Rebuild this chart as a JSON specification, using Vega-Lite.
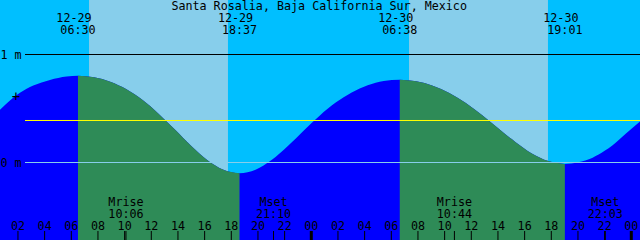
{
  "$schema": "https://vega.github.io/schema/vega-lite/v6.json",
  "width": 640,
  "height": 240,
  "autosize": {"type": "none"},
  "padding": 0,
  "background": "#00BFFF",
  "config": {
    "view": {"stroke": null},
    "text": {"font": "DejaVu Sans Mono", "fontSize": 11.7, "fill": "black"}
  },
  "datasets": {
    "tide": [
      {"h": 0.6, "level": 0.482}, {"h": 1.4, "level": 0.575}, {"h": 2.15, "level": 0.645},
      {"h": 3.15, "level": 0.712}, {"h": 4.4, "level": 0.765}, {"h": 5.65, "level": 0.797},
      {"h": 6.5, "level": 0.803}, {"h": 7.71, "level": 0.789}, {"h": 8.92, "level": 0.748},
      {"h": 10.14, "level": 0.678}, {"h": 11.35, "level": 0.578}, {"h": 12.56, "level": 0.45},
      {"h": 13.77, "level": 0.305}, {"h": 14.98, "level": 0.155}, {"h": 16.19, "level": 0.024},
      {"h": 17.41, "level": -0.067}, {"h": 18.617, "level": -0.099}, {"h": 19.82, "level": -0.067},
      {"h": 21.02, "level": 0.022}, {"h": 22.22, "level": 0.15}, {"h": 23.42, "level": 0.295},
      {"h": 24.625, "level": 0.434}, {"h": 25.83, "level": 0.555}, {"h": 27.03, "level": 0.649},
      {"h": 28.23, "level": 0.715}, {"h": 29.43, "level": 0.754}, {"h": 30.633, "level": 0.766},
      {"h": 31.87, "level": 0.752}, {"h": 33.11, "level": 0.711}, {"h": 34.35, "level": 0.644},
      {"h": 35.59, "level": 0.551}, {"h": 36.825, "level": 0.437}, {"h": 38.06, "level": 0.313},
      {"h": 39.3, "level": 0.19}, {"h": 40.54, "level": 0.084}, {"h": 41.78, "level": 0.013},
      {"h": 43.017, "level": -0.013}, {"h": 44.0, "level": 0.003}, {"h": 45.1, "level": 0.045},
      {"h": 46.0, "level": 0.108}, {"h": 46.6, "level": 0.16}, {"h": 47.6, "level": 0.268},
      {"h": 48.7, "level": 0.385}
    ],
    "extremes": [
      {"h": 6.5, "date": "12-29", "time": "06:30"},
      {"h": 18.617, "date": "12-29", "time": "18:37"},
      {"h": 30.633, "date": "12-30", "time": "06:38"},
      {"h": 43.017, "date": "12-30", "time": "19:01"}
    ],
    "moon": [
      {"h": 10.1, "event": "Mrise", "time": "10:06"},
      {"h": 21.167, "event": "Mset", "time": "21:10"},
      {"h": 34.733, "event": "Mrise", "time": "10:44"},
      {"h": 46.05, "event": "Mset", "time": "22:03"}
    ],
    "sun": [
      {"rise": 7.33, "set": 17.75},
      {"rise": 31.33, "set": 41.75}
    ],
    "hours": [
      {"h": 2, "label": "02", "kind": "hour"}, {"h": 4, "label": "04", "kind": "hour"},
      {"h": 6, "label": "06", "kind": "hour"}, {"h": 8, "label": "08", "kind": "hour"},
      {"h": 10, "label": "10", "kind": "hour"}, {"h": 12, "label": "12", "kind": "hour"},
      {"h": 14, "label": "14", "kind": "hour"}, {"h": 16, "label": "16", "kind": "hour"},
      {"h": 18, "label": "18", "kind": "hour"}, {"h": 20, "label": "20", "kind": "hour"},
      {"h": 22, "label": "22", "kind": "hour"}, {"h": 24, "label": "00", "kind": "midnight"},
      {"h": 26, "label": "02", "kind": "hour"}, {"h": 28, "label": "04", "kind": "hour"},
      {"h": 30, "label": "06", "kind": "hour"}, {"h": 32, "label": "08", "kind": "hour"},
      {"h": 34, "label": "10", "kind": "hour"}, {"h": 36, "label": "12", "kind": "hour"},
      {"h": 38, "label": "14", "kind": "hour"}, {"h": 40, "label": "16", "kind": "hour"},
      {"h": 42, "label": "18", "kind": "hour"}, {"h": 44, "label": "20", "kind": "hour"},
      {"h": 46, "label": "22", "kind": "hour"}, {"h": 48, "label": "00", "kind": "midnight"}
    ],
    "levels": [
      {"level": 1, "label": "1 m"},
      {"level": 0, "label": "0 m"}
    ],
    "mean": [{"level": 0.389}],
    "title": [{"title": "Santa Rosalia, Baja California Sur, Mexico"}]
  },
  "layer": [
    {
      "data": {"name": "sun"},
      "mark": {"type": "rect", "color": "#87CEEB"},
      "encoding": {
        "x": {"field": "rise", "type": "quantitative", "scale": {"domain": [0.6525, 48.6525], "nice": false, "zero": false}, "axis": null},
        "x2": {"field": "set"}
      }
    },
    {
      "data": {"name": "tide"},
      "mark": {"type": "area", "interpolate": "monotone", "color": "#0000FF", "opacity": 1},
      "encoding": {
        "x": {"field": "h", "type": "quantitative", "scale": {"domain": [0.6525, 48.6525], "nice": false, "zero": false}, "axis": null},
        "y": {"field": "level", "type": "quantitative", "stack": null, "scale": {"domain": [-0.71759, 1.50463], "nice": false, "zero": false}, "axis": null},
        "y2": {"datum": -0.71759}
      }
    },
    {
      "data": {"name": "tide"},
      "transform": [{"filter": "datum.h >= 6.5 && datum.h <= 18.617"}],
      "mark": {"type": "area", "interpolate": "monotone", "color": "#2E8B57", "opacity": 1},
      "encoding": {
        "x": {"field": "h", "type": "quantitative", "scale": {"domain": [0.6525, 48.6525], "nice": false, "zero": false}, "axis": null},
        "y": {"field": "level", "type": "quantitative", "stack": null, "scale": {"domain": [-0.71759, 1.50463], "nice": false, "zero": false}, "axis": null},
        "y2": {"datum": -0.71759}
      }
    },
    {
      "data": {"name": "tide"},
      "transform": [{"filter": "datum.h >= 30.633 && datum.h <= 43.017"}],
      "mark": {"type": "area", "interpolate": "monotone", "color": "#2E8B57", "opacity": 1},
      "encoding": {
        "x": {"field": "h", "type": "quantitative", "scale": {"domain": [0.6525, 48.6525], "nice": false, "zero": false}, "axis": null},
        "y": {"field": "level", "type": "quantitative", "stack": null, "scale": {"domain": [-0.71759, 1.50463], "nice": false, "zero": false}, "axis": null},
        "y2": {"datum": -0.71759}
      }
    },
    {
      "data": {"name": "levels"},
      "transform": [{"filter": "datum.level == 1"}],
      "mark": {"type": "rule", "color": "black", "strokeWidth": 1},
      "encoding": {
        "y": {"field": "level", "type": "quantitative", "scale": {"domain": [-0.71759, 1.50463], "nice": false, "zero": false}, "axis": null},
        "x": {"datum": 2.5275, "type": "quantitative", "scale": {"domain": [0.6525, 48.6525], "nice": false, "zero": false}, "axis": null},
        "x2": {"datum": 48.7}
      }
    },
    {
      "data": {"name": "levels"},
      "transform": [{"filter": "datum.level == 0"}],
      "mark": {"type": "rule", "color": "#87CEEB", "strokeWidth": 1},
      "encoding": {
        "y": {"field": "level", "type": "quantitative", "scale": {"domain": [-0.71759, 1.50463], "nice": false, "zero": false}, "axis": null},
        "x": {"datum": 2.5275, "type": "quantitative", "scale": {"domain": [0.6525, 48.6525], "nice": false, "zero": false}, "axis": null},
        "x2": {"datum": 48.7}
      }
    },
    {
      "data": {"name": "mean"},
      "mark": {"type": "rule", "color": "#FFFF00", "strokeWidth": 1},
      "encoding": {
        "y": {"field": "level", "type": "quantitative", "scale": {"domain": [-0.71759, 1.50463], "nice": false, "zero": false}, "axis": null},
        "x": {"datum": 2.5275, "type": "quantitative", "scale": {"domain": [0.6525, 48.6525], "nice": false, "zero": false}, "axis": null},
        "x2": {"datum": 48.7}
      }
    },
    {
      "data": {"name": "hours"},
      "mark": {"type": "rule", "color": "black"},
      "encoding": {
        "x": {"field": "h", "type": "quantitative", "scale": {"domain": [0.6525, 48.6525], "nice": false, "zero": false}, "axis": null},
        "y": {"datum": -0.6343, "type": "quantitative", "scale": {"domain": [-0.71759, 1.50463], "nice": false, "zero": false}, "axis": null},
        "y2": {"datum": -0.71759},
        "strokeWidth": {"field": "kind", "type": "ordinal", "scale": {"domain": ["hour", "midnight"], "range": [1, 3]}, "legend": null}
      }
    },
    {
      "data": {"name": "moon"},
      "mark": {"type": "rule", "color": "black", "strokeWidth": 1},
      "encoding": {
        "x": {"field": "h", "type": "quantitative", "scale": {"domain": [0.6525, 48.6525], "nice": false, "zero": false}, "axis": null},
        "y": {"datum": -0.6343, "type": "quantitative", "scale": {"domain": [-0.71759, 1.50463], "nice": false, "zero": false}, "axis": null},
        "y2": {"datum": -0.71759}
      }
    },
    {
      "data": {"name": "hours"},
      "mark": {"type": "text", "align": "center", "baseline": "alphabetic"},
      "encoding": {
        "x": {"field": "h", "type": "quantitative", "scale": {"domain": [0.6525, 48.6525], "nice": false, "zero": false}, "axis": null},
        "y": {"datum": -0.625, "type": "quantitative", "scale": {"domain": [-0.71759, 1.50463], "nice": false, "zero": false}, "axis": null},
        "text": {"field": "label"}
      }
    },
    {
      "data": {"name": "moon"},
      "mark": {"type": "text", "align": "center", "baseline": "alphabetic"},
      "encoding": {
        "x": {"field": "h", "type": "quantitative", "scale": {"domain": [0.6525, 48.6525], "nice": false, "zero": false}, "axis": null},
        "y": {"datum": -0.4028, "type": "quantitative", "scale": {"domain": [-0.71759, 1.50463], "nice": false, "zero": false}, "axis": null},
        "text": {"field": "event"}
      }
    },
    {
      "data": {"name": "moon"},
      "mark": {"type": "text", "align": "center", "baseline": "alphabetic"},
      "encoding": {
        "x": {"field": "h", "type": "quantitative", "scale": {"domain": [0.6525, 48.6525], "nice": false, "zero": false}, "axis": null},
        "y": {"datum": -0.5139, "type": "quantitative", "scale": {"domain": [-0.71759, 1.50463], "nice": false, "zero": false}, "axis": null},
        "text": {"field": "time"}
      }
    },
    {
      "data": {"name": "extremes"},
      "mark": {"type": "text", "align": "center", "baseline": "alphabetic", "dx": -4},
      "encoding": {
        "x": {"field": "h", "type": "quantitative", "scale": {"domain": [0.6525, 48.6525], "nice": false, "zero": false}, "axis": null},
        "y": {"datum": 1.3009, "type": "quantitative", "scale": {"domain": [-0.71759, 1.50463], "nice": false, "zero": false}, "axis": null},
        "text": {"field": "date"}
      }
    },
    {
      "data": {"name": "extremes"},
      "mark": {"type": "text", "align": "center", "baseline": "alphabetic"},
      "encoding": {
        "x": {"field": "h", "type": "quantitative", "scale": {"domain": [0.6525, 48.6525], "nice": false, "zero": false}, "axis": null},
        "y": {"datum": 1.1898, "type": "quantitative", "scale": {"domain": [-0.71759, 1.50463], "nice": false, "zero": false}, "axis": null},
        "text": {"field": "time"}
      }
    },
    {
      "data": {"name": "title"},
      "mark": {"type": "text", "align": "center", "baseline": "alphabetic"},
      "encoding": {
        "x": {"datum": 24.59, "type": "quantitative", "scale": {"domain": [0.6525, 48.6525], "nice": false, "zero": false}, "axis": null},
        "y": {"datum": 1.412, "type": "quantitative", "scale": {"domain": [-0.71759, 1.50463], "nice": false, "zero": false}, "axis": null},
        "text": {"field": "title"}
      }
    },
    {
      "data": {"name": "levels"},
      "mark": {"type": "text", "align": "right", "baseline": "middle"},
      "encoding": {
        "x": {"datum": 2.2725, "type": "quantitative", "scale": {"domain": [0.6525, 48.6525], "nice": false, "zero": false}, "axis": null},
        "y": {"field": "level", "type": "quantitative", "scale": {"domain": [-0.71759, 1.50463], "nice": false, "zero": false}, "axis": null},
        "text": {"field": "label"}
      }
    },
    {
      "data": {"name": "mean"},
      "mark": {"type": "text", "align": "center", "baseline": "middle", "text": "+", "fontSize": 14},
      "encoding": {
        "x": {"datum": 1.8525, "type": "quantitative", "scale": {"domain": [0.6525, 48.6525], "nice": false, "zero": false}, "axis": null},
        "y": {"datum": 0.609, "type": "quantitative", "scale": {"domain": [-0.71759, 1.50463], "nice": false, "zero": false}, "axis": null}
      }
    }
  ]
}
